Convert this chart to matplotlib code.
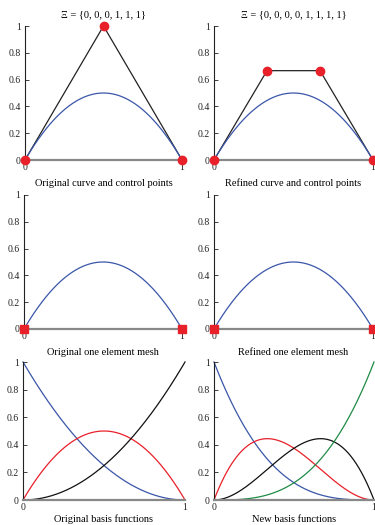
import matplotlib
matplotlib.use('Agg')
import matplotlib.pyplot as plt
import numpy as np

plt.rcParams['font.family'] = ['Liberation Serif', 'DejaVu Serif']

# knot vectors and control points
knots_orig = [0, 0, 0, 1, 1, 1]
knots_ref = [0, 0, 0, 0, 1, 1, 1, 1]
ctrl_orig_x = [0, 0.5, 1]
ctrl_orig_y = [0, 1, 0]
ctrl_ref_x = [0, 1 / 3, 2 / 3, 1]
ctrl_ref_y = [0, 2 / 3, 2 / 3, 0]
mesh_nodes = [0, 1]

title_orig = 'Ξ = {0, 0, 0, 1, 1, 1}'
title_ref = 'Ξ = {0, 0, 0, 0, 1, 1, 1, 1}'
labels = ['Original curve and control points', 'Refined curve and control points',
          'Original one element mesh', 'Refined one element mesh',
          'Original basis functions', 'New basis functions']

BLUE = '#3a56a8'
RED = '#e8202a'
BLACK = '#111111'
GREEN = '#1f8a45'
basis_colors_orig = [BLUE, RED, BLACK]
basis_colors_ref = [BLUE, RED, BLACK, GREEN]


def basis(knots, p, t):
    # Cox-de Boor
    knots = np.asarray(knots, float)
    n = len(knots) - p - 1
    N = np.zeros((len(knots) - 1, len(t)))
    for i in range(len(knots) - 1):
        if knots[i] < knots[i + 1]:
            N[i] = ((t >= knots[i]) & (t < knots[i + 1])) | ((t == knots[-1]) & (knots[i + 1] == knots[-1]))
    for k in range(1, p + 1):
        Nn = np.zeros((len(knots) - 1 - k, len(t)))
        for i in range(len(knots) - 1 - k):
            a = 0
            b = 0
            if knots[i + k] > knots[i]:
                a = (t - knots[i]) / (knots[i + k] - knots[i]) * N[i]
            if knots[i + k + 1] > knots[i + 1]:
                b = (knots[i + k + 1] - t) / (knots[i + k + 1] - knots[i + 1]) * N[i + 1]
            Nn[i] = a + b
        N = Nn
    return N[:n]


t = np.linspace(0, 1, 300)
B_orig = basis(knots_orig, 2, t)
B_ref = basis(knots_ref, 3, t)

fig = plt.figure(figsize=(3.75, 5.25), dpi=100)
W, H = 375, 525


def make_ax(x0, x1, y1px, y0px):
    ax = fig.add_axes([x0 / W, (H - y0px) / H, (x1 - x0) / W, (y0px - y1px) / H])
    ax.set_xlim(0, 1)
    ax.set_ylim(0, 1)
    for s in ['top', 'right']:
        ax.spines[s].set_visible(False)
    ax.spines['left'].set_color('#222222')
    ax.spines['left'].set_linewidth(0.8)
    ax.spines['bottom'].set_color('#888888')
    ax.spines['bottom'].set_linewidth(1.6)
    ax.set_yticks([0, 0.2, 0.4, 0.6, 0.8, 1])
    ax.set_yticklabels(['0', '0.2', '0.4', '0.6', '0.8', '1'])
    ax.set_xticks([0, 1])
    ax.set_xticklabels(['0', '1'])
    ax.tick_params(axis='y', direction='in', length=3, width=0.6, labelsize=7, pad=3, colors='#222222')
    ax.tick_params(axis='x', length=0, labelsize=7, pad=2, colors='#222222')
    ax.patch.set_alpha(0)
    return ax


axes = [
    make_ax(25, 182, 26, 160), make_ax(214, 373, 26, 160),
    make_ax(24, 182, 195, 329), make_ax(214, 373, 195, 329),
    make_ax(23, 185, 362, 500), make_ax(214, 374, 362, 500),
]

curve_orig_x = B_orig.T @ np.array(ctrl_orig_x)
curve_orig_y = B_orig.T @ np.array(ctrl_orig_y)
curve_ref_x = B_ref.T @ np.array(ctrl_ref_x)
curve_ref_y = B_ref.T @ np.array(ctrl_ref_y)

# top row
ax = axes[0]
ax.plot(ctrl_orig_x, ctrl_orig_y, color='#222222', lw=0.9)
ax.plot(curve_orig_x, curve_orig_y, color=BLUE, lw=0.9)
ax.plot(ctrl_orig_x, ctrl_orig_y, 'o', color=RED, ms=6, clip_on=False, zorder=5)
ax.set_title(title_orig, fontsize=7.5, pad=6)

ax = axes[1]
ax.plot(ctrl_ref_x, ctrl_ref_y, color='#222222', lw=0.9)
ax.plot(curve_ref_x, curve_ref_y, color=BLUE, lw=0.9)
ax.plot(ctrl_ref_x, ctrl_ref_y, 'o', color=RED, ms=6, clip_on=False, zorder=5)
ax.set_title(title_ref, fontsize=7.5, pad=6)

# middle row
for ax, cx, cy in [(axes[2], curve_orig_x, curve_orig_y), (axes[3], curve_ref_x, curve_ref_y)]:
    ax.plot(cx, cy, color=BLUE, lw=0.9)
    ax.plot(mesh_nodes, [0] * len(mesh_nodes), 's', color=RED, ms=6, clip_on=False, zorder=5)

# bottom row
for B, cols, ax in [(B_orig, basis_colors_orig, axes[4]), (B_ref, basis_colors_ref, axes[5])]:
    for Ni, c in zip(B, cols):
        ax.plot(t, Ni, color=c, lw=0.9, clip_on=False)

for i, (ax, lab) in enumerate(zip(axes, labels)):
    ax.set_xlabel(lab, fontsize=7.5, labelpad=2 if i >= 4 else 5)

fig.savefig('out.png', dpi=100)
